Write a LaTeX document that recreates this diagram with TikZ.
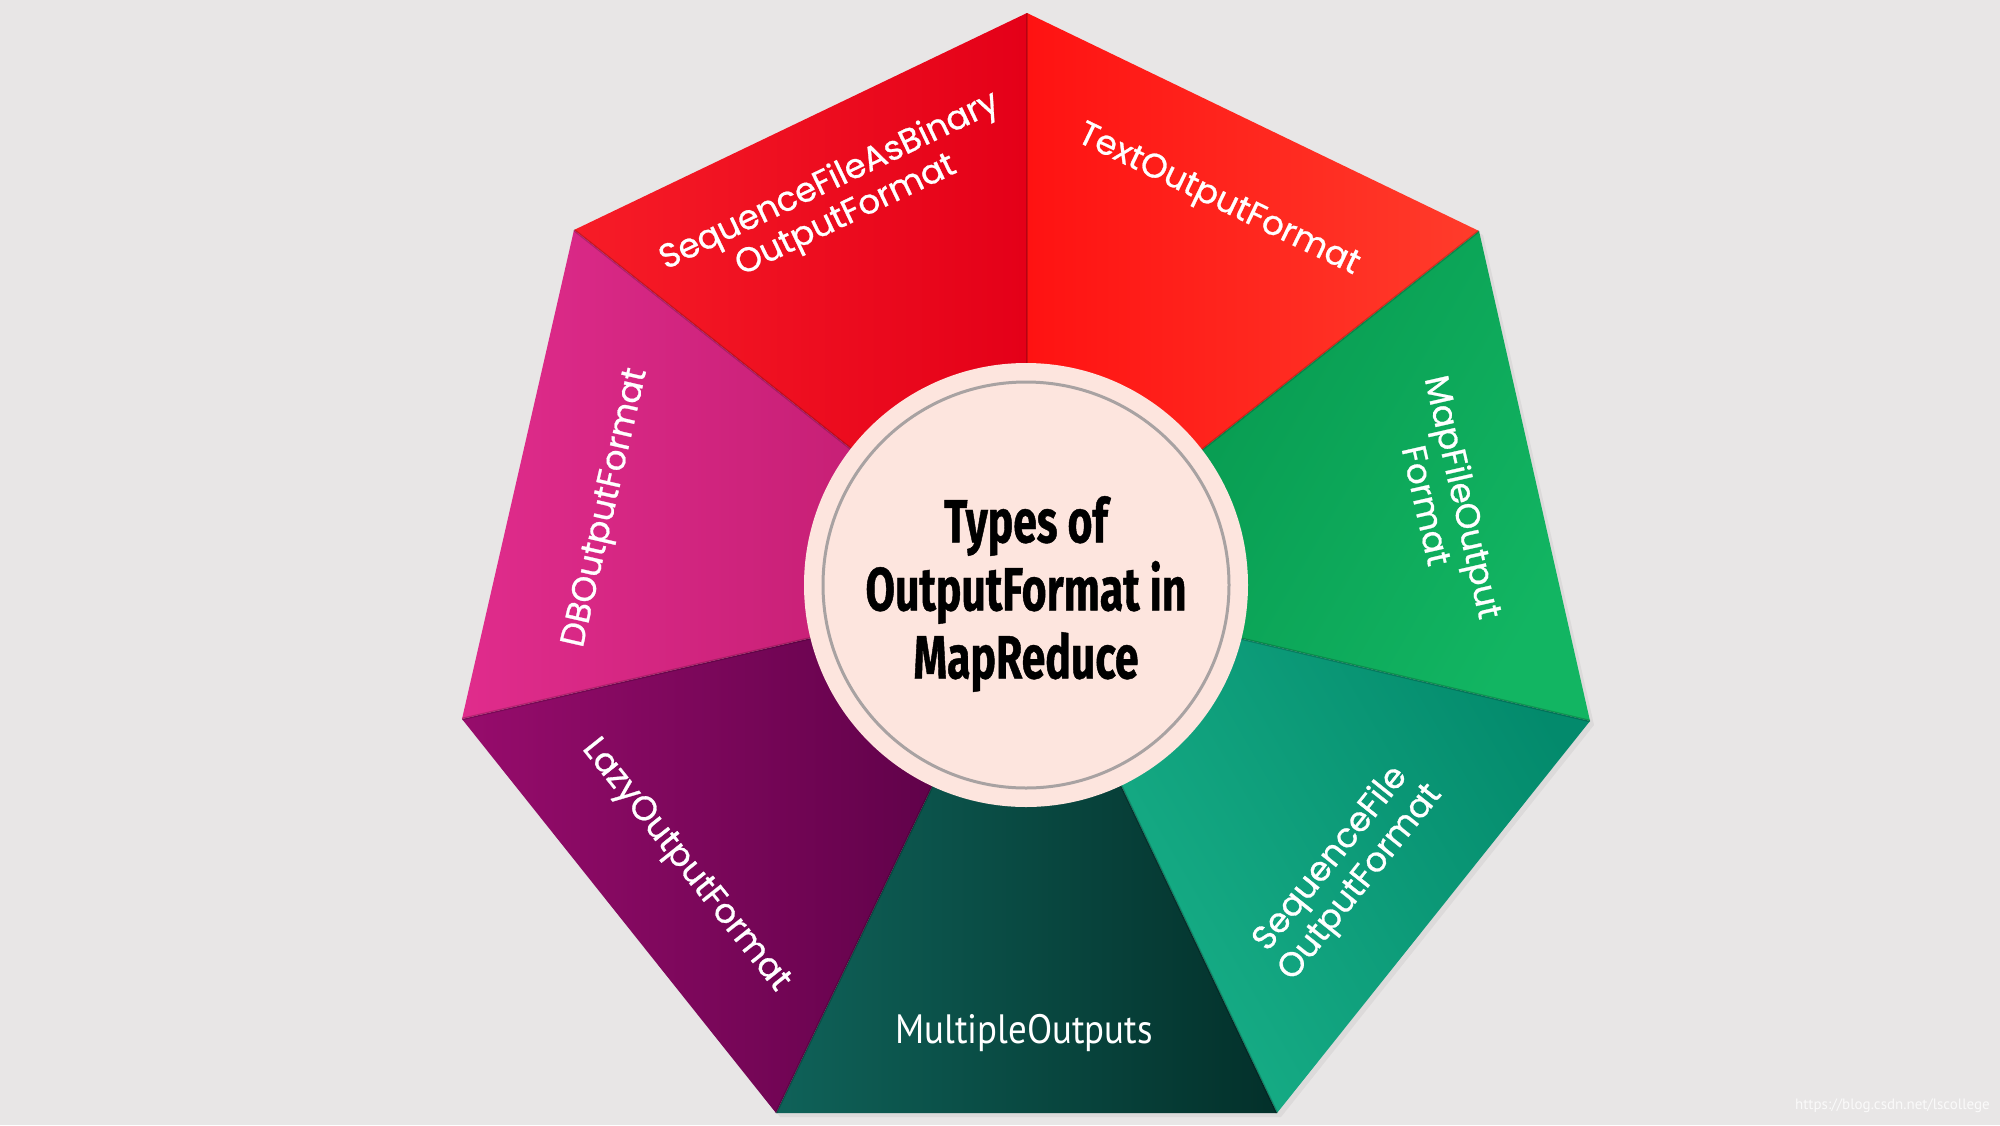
\documentclass[tikz,border=0pt]{standalone}
\usepackage{fontspec}
\setmainfont{PT Sans}
\newfontfamily\segfont[FakeBold=0.8]{Poppins}
\newfontfamily\titlefont[FakeStretch=0.7, FakeBold=0.7]{Fira Sans}
\newfontfamily\multfont[FakeStretch=0.9]{PT Sans}
\definecolor{bg}{HTML}{E8E6E6}
\definecolor{rA1}{HTML}{F71C27}\definecolor{rA2}{HTML}{E40018}
\definecolor{rB1}{HTML}{FF1212}\definecolor{rB2}{HTML}{FF3C2B}
\definecolor{gA1}{HTML}{05934C}\definecolor{gA2}{HTML}{12B562}
\definecolor{tA1}{HTML}{038A6C}\definecolor{tA2}{HTML}{1AB38A}
\definecolor{dA1}{HTML}{0F6259}\definecolor{dA2}{HTML}{03302A}
\definecolor{pA1}{HTML}{970C6C}\definecolor{pA2}{HTML}{560043}
\definecolor{mA1}{HTML}{E02C8C}\definecolor{mA2}{HTML}{BC1A6C}
\definecolor{disc}{HTML}{FDE5DE}
\definecolor{ring}{HTML}{A8A2A2}
\tikzset{
  seglabel/.style={text=white, font=\segfont\fontsize{34}{38}\selectfont, align=center, inner sep=0pt},
  fold/.style={black, opacity=0.18, line width=2.5pt},
}
\begin{document}
\begin{tikzpicture}[x=1pt,y=-1pt]
\useasboundingbox (0,0) rectangle (2000,1125);
\fill[bg] (0,0) rectangle (2000,1125);
\coordinate (C) at (1027,588);
\coordinate (P0) at (1027,13);
\coordinate (P1) at (1479,231);
\coordinate (P2) at (1590,721);
\coordinate (P3) at (1277,1113);
\coordinate (P4) at (776,1113);
\coordinate (P5) at (462,719);
\coordinate (P6) at (574,230);
% soft outer shadow
\fill[black,opacity=0.05] ([xshift=4pt,yshift=-4pt]P0) -- ([xshift=4pt,yshift=-4pt]P1) -- ([xshift=4pt,yshift=-4pt]P2) -- ([xshift=4pt,yshift=-4pt]P3) -- ([xshift=4pt,yshift=-4pt]P4) -- ([xshift=4pt,yshift=-4pt]P5) -- ([xshift=4pt,yshift=-4pt]P6) -- cycle;
% segments
\shade[left color=rA1, right color=rA2] (C) -- (P6) -- (P0) -- cycle;
\shade[left color=rB1, right color=rB2] (C) -- (P0) -- (P1) -- cycle;
\shade[left color=gA1, right color=gA2, shading angle=60] (C) -- (P1) -- (P2) -- cycle;
\shade[left color=tA2, right color=tA1, shading angle=120] (C) -- (P2) -- (P3) -- cycle;
\shade[left color=dA1, right color=dA2] (C) -- (P3) -- (P4) -- cycle;
\shade[left color=pA1, right color=pA2] (C) -- (P4) -- (P5) -- cycle;
\shade[left color=mA1, right color=mA2] (C) -- (P5) -- (P6) -- cycle;
% fold lines
\foreach \p in {P0,P1,P2,P3,P4,P5,P6} \draw[fold] (C) -- (\p);
% center disc
\fill[disc] (1026,585) circle (222);
\draw[ring, line width=3pt] (1026,585) circle (203);
\node[font=\titlefont\bfseries\fontsize{61}{68}\selectfont, align=center, inner sep=0pt] (title) at (1026,594) {Types of\\OutputFormat in\\MapReduce};
% labels
\node[seglabel, rotate=25.6] (l1) at (838,199) {SequenceFileAsBinary\\OutputFormat};
\node[seglabel, rotate=-25.7] (l2) at (1218,201) {TextOutputFormat};
\node[seglabel, rotate=-77.2] (l3) at (1446,501) {MapFileOutput\\Format};
\node[seglabel, rotate=51.4] (l4) at (1346,871) {SequenceFile\\OutputFormat};
\node[text=white, font=\multfont\fontsize{41}{44}\selectfont, inner sep=0pt] (l5) at (1024,1033) {MultipleOutputs};
\node[seglabel, rotate=-51.4] (l6) at (685,866) {LazyOutputFormat};
\node[seglabel, rotate=77.1] (l7) at (607,508) {DBOutputFormat};
% watermark
\node[text=white, opacity=0.8, font=\fontsize{15}{18}\selectfont, anchor=east, inner sep=0pt] (wm) at (1990,1106) {https://blog.csdn.net/lscollege};
\end{tikzpicture}
\end{document}
